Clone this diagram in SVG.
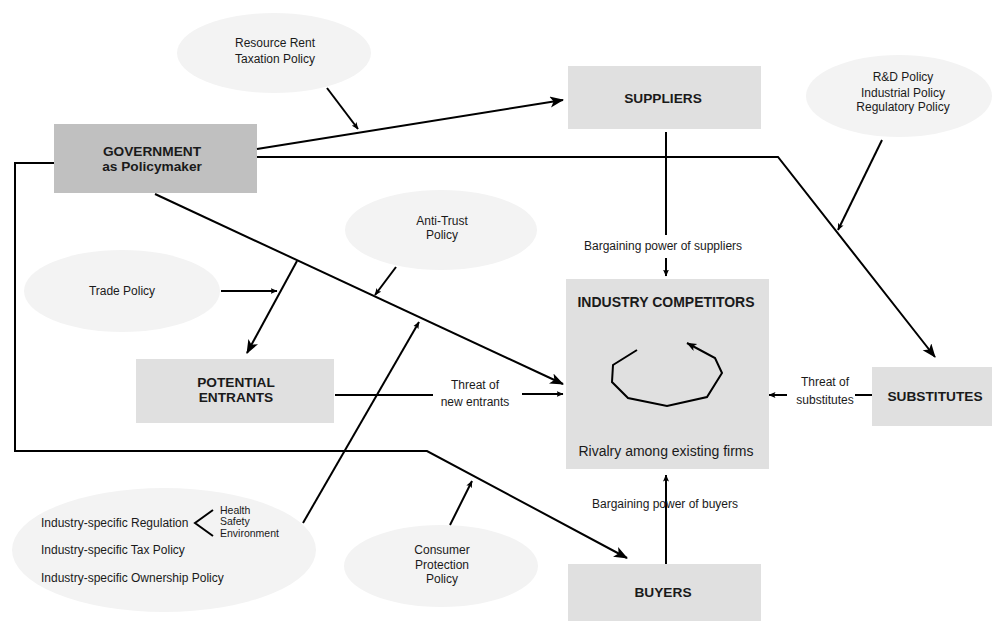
<svg xmlns="http://www.w3.org/2000/svg" width="992" height="621" viewBox="0 0 992 621">
<style>
text{font-family:"Liberation Sans",Arial,sans-serif;fill:#1a1a1a;text-anchor:middle}
.b{font-weight:bold;font-size:13.7px}
.t{font-size:12px}
.s{font-size:10.5px;text-anchor:start}
.l{text-anchor:start}
.gov{fill:#c0c0c0}
.box{fill:#e0e0e0}
.pol{fill:#f3f3f3}
.c{fill:none;stroke:#000;stroke-width:2;stroke-linejoin:miter}
.big{marker-end:url(#big)}
.sm{marker-end:url(#sm)}
</style>
<defs>
<marker id="big" markerUnits="userSpaceOnUse" markerWidth="14" markerHeight="12" refX="13" refY="5.5" orient="auto">
<path d="M0,0 L14,5.5 L0,11 L3.5,5.5 z" fill="#000"/>
</marker>
<marker id="sm" markerUnits="userSpaceOnUse" markerWidth="7" markerHeight="6" refX="6.5" refY="3" orient="auto">
<path d="M0,0 L7,3 L0,6 L1.5,3 z" fill="#000"/>
</marker>
<marker id="mid" markerUnits="userSpaceOnUse" markerWidth="10" markerHeight="9" refX="9.5" refY="4" orient="auto">
<path d="M0,0 L10,4 L0,8 L2.5,4 z" fill="#000"/>
</marker>
</defs>

<g id="policy-resource-rent">
<ellipse class="pol" cx="274" cy="53" rx="97" ry="40"/>
<text class="t" x="275" y="47">Resource Rent</text>
<text class="t" x="275" y="63">Taxation Policy</text>
</g>
<g id="policy-rd">
<ellipse class="pol" cx="899" cy="96" rx="93" ry="41"/>
<text class="t" x="903" y="81">R&amp;D Policy</text>
<text class="t" x="903" y="97">Industrial Policy</text>
<text class="t" x="903" y="111">Regulatory Policy</text>
</g>
<g id="policy-trade">
<ellipse class="pol" cx="122" cy="291" rx="98" ry="41"/>
<text class="t" x="122" y="295">Trade Policy</text>
</g>
<g id="policy-antitrust">
<ellipse class="pol" cx="441" cy="230" rx="96" ry="40"/>
<text class="t" x="442" y="225">Anti-Trust</text>
<text class="t" x="442" y="239">Policy</text>
</g>
<g id="policy-industry">
<ellipse class="pol" cx="164" cy="550" rx="152" ry="62"/>
<text class="t l" x="41" y="527">Industry-specific Regulation</text>
<text class="t l" x="41" y="554">Industry-specific Tax Policy</text>
<text class="t l" x="41" y="582">Industry-specific Ownership Policy</text>
<path d="M213,510 L195,523 L213,536" fill="none" stroke="#000" stroke-width="2"/>
<text class="s" x="220" y="514">Health</text>
<text class="s" x="220" y="525">Safety</text>
<text class="s" x="220" y="537">Environment</text>
</g>
<g id="policy-consumer">
<ellipse class="pol" cx="441" cy="566" rx="97" ry="41"/>
<text class="t" x="442" y="554">Consumer</text>
<text class="t" x="442" y="569">Protection</text>
<text class="t" x="442" y="583">Policy</text>
</g>

<g id="government">
<rect class="gov" x="54" y="124" width="203" height="69"/>
<text class="b" x="152" y="156">GOVERNMENT</text>
<text class="b" x="152" y="171">as Policymaker</text>
</g>
<g id="suppliers">
<rect class="box" x="568" y="66" width="193" height="63"/>
<text class="b" x="663" y="103">SUPPLIERS</text>
</g>
<g id="industry-competitors">
<rect class="box" x="566" y="279" width="203" height="190"/>
<text class="b" x="666" y="307" style="font-size:14px">INDUSTRY COMPETITORS</text>
<polyline class="c" points="637,350 613,365 612,382 628,398 667,406 707,397 722,373 715,358 687,343" marker-end="url(#mid)"/>
<text x="666" y="456" style="font-size:14px">Rivalry among existing firms</text>
</g>
<g id="potential-entrants">
<rect class="box" x="136" y="359" width="198" height="64"/>
<text class="b" x="236" y="387">POTENTIAL</text>
<text class="b" x="236" y="402">ENTRANTS</text>
</g>
<g id="substitutes">
<rect class="box" x="872" y="367" width="120" height="59"/>
<text class="b" x="935" y="401">SUBSTITUTES</text>
</g>
<g id="buyers">
<rect class="box" x="568" y="564" width="193" height="57"/>
<text class="b" x="663" y="597">BUYERS</text>
</g>

<g id="connectors">
<line class="c big" x1="257" y1="149" x2="563" y2="100"/>
<line class="c sm" x1="327" y1="88" x2="358" y2="129"/>
<polyline class="c big" points="257,157 778,157 935,357"/>
<line class="c sm" x1="882" y1="140" x2="838" y2="230"/>
<line class="c" x1="666" y1="132" x2="666" y2="235"/>
<line class="c sm" x1="666" y1="258" x2="666" y2="276"/>
<text class="t" x="663" y="250">Bargaining power of suppliers</text>
<line class="c big" x1="155" y1="194" x2="563" y2="384"/>
<line class="c big" x1="297" y1="261" x2="247" y2="353"/>
<line class="c sm" x1="221" y1="291" x2="277" y2="291"/>
<line class="c sm" x1="396" y1="267" x2="375" y2="295"/>
<line class="c sm" x1="303" y1="523" x2="419" y2="322"/>
<line class="c" x1="335" y1="395" x2="433" y2="395"/>
<line class="c sm" x1="522" y1="394" x2="563" y2="394"/>
<text class="t" x="475" y="389">Threat of</text>
<text class="t" x="475" y="406">new entrants</text>
<line class="c" x1="872" y1="395" x2="855" y2="395"/>
<line class="c sm" x1="787" y1="395" x2="769" y2="395"/>
<text class="t" x="825" y="386">Threat of</text>
<text class="t" x="825" y="404">substitutes</text>
<polyline class="c big" points="54,163 15,163 15,451 427,451 627,558"/>
<line class="c sm" x1="450" y1="525" x2="472" y2="481"/>
<line class="c sm" x1="666" y1="564" x2="666" y2="475"/>
<text class="t" x="665" y="508">Bargaining power of buyers</text>
</g>
</svg>
